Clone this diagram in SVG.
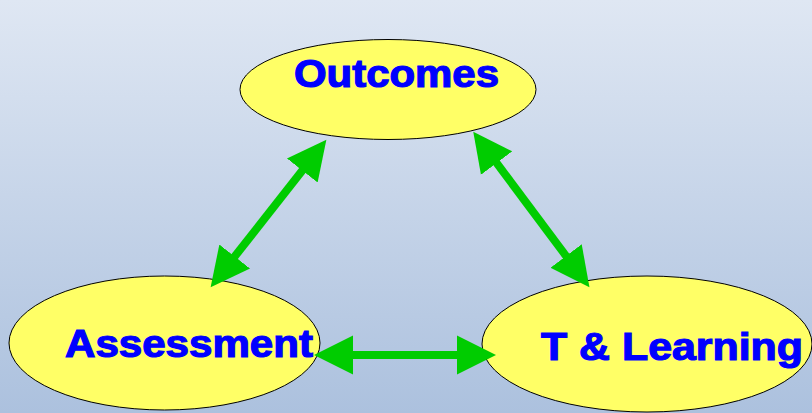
<svg xmlns="http://www.w3.org/2000/svg" width="812" height="413" viewBox="0 0 812 413">
  <defs>
    <linearGradient id="bg" x1="0" y1="0" x2="0" y2="1">
      <stop offset="0" stop-color="#dfe7f3"/>
      <stop offset="1" stop-color="#acc1de"/>
    </linearGradient>
    <marker id="head" markerUnits="userSpaceOnUse" markerWidth="42" markerHeight="42" viewBox="0 -21 42 42" refX="1" refY="0" orient="auto-start-reverse">
      <path d="M0,-19.5 L39,0 L0,19.5 Z" fill="#00cc00"/>
    </marker>
  </defs>
  <style>
    .node ellipse { fill: #ffff66; stroke: #000000; stroke-width: 1; }
    .node text { font-family: "Liberation Sans", Arial, sans-serif; font-weight: bold; font-size: 38px; fill: #0000ff; stroke: #0000ff; stroke-width: 1.2; }
    .conn line { stroke: #00cc00; stroke-width: 8; marker-start: url(#head); marker-end: url(#head); }
  </style>
  <rect x="0" y="0" width="812" height="413" fill="url(#bg)"/>
  <g id="outcomes" class="node">
    <ellipse cx="388" cy="89.5" rx="148" ry="50"/>
    <text x="294" y="87" textLength="205" lengthAdjust="spacingAndGlyphs">Outcomes</text>
  </g>
  <g id="assessment" class="node">
    <ellipse cx="164.5" cy="343" rx="155.5" ry="67"/>
    <text x="65" y="357" textLength="248" lengthAdjust="spacingAndGlyphs">Assessment</text>
  </g>
  <g id="tlearning" class="node">
    <ellipse cx="647" cy="344" rx="165" ry="68"/>
    <text x="541" y="360" textLength="262" lengthAdjust="spacingAndGlyphs">T &amp; Learning</text>
  </g>
  <g id="connectors" class="conn">
    <line x1="234.1" y1="257.3" x2="302.9" y2="169.7"/>
    <line x1="496" y1="162.2" x2="566.7" y2="256.8"/>
    <line x1="352" y1="355" x2="458" y2="355"/>
  </g>
</svg>
